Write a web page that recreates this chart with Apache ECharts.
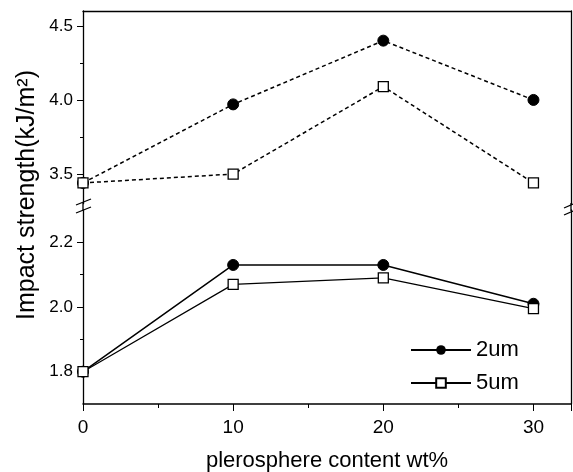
<!DOCTYPE html>
<html lang="en">
<head>
    <meta charset="UTF-8">
    <title>impact strength</title>
    <script src="https://cdn.jsdelivr.net/npm/echarts@6/dist/echarts.min.js"></script>
    <style>
        body { margin: 0; background: #fff; }
        #chart { width: 573px; height: 472px; }
    </style>
</head>
<body>
<div id="chart"></div>
<script>
    // plerosphere content, wt%
    const content = [0, 10, 20, 30];
    // upper (broken) panel, dashed
    const upper2um = [3.44, 3.97, 4.40, 4.00];
    const upper5um = [3.44, 3.50, 4.09, 3.44];
    // lower panel, solid
    const lower2um = [1.80, 2.13, 2.13, 2.01];
    const lower5um = [1.80, 2.07, 2.09, 1.995];

    // tick labels
    const upperTicks = [3.5, 4.0, 4.5];
    const upperMinor = [3.75, 4.25];
    const lowerTicks = [1.8, 2.0, 2.2];
    const lowerMinor = [1.9, 2.1];

    const font = 'Liberation Sans, Arial, sans-serif';

    function pairs(ys) {
        return content.map((x, i) => [x, ys[i]]);
    }

    let myChart = echarts.init(document.getElementById('chart'));

    const blackLine = {show: true, onZero: false, lineStyle: {color: '#000', width: 1.3}};

    function leftAxis(grid, min, max, ticks) {
        return {
            type: 'value', gridIndex: grid, min: min, max: max,
            axisLine: blackLine,
            axisTick: {show: true, length: 6, customValues: ticks, lineStyle: {color: '#000'}},
            axisLabel: {
                color: '#000', fontSize: 17, fontFamily: font, margin: 10,
                customValues: ticks, formatter: v => v.toFixed(1)
            },
            splitLine: {show: false}
        };
    }

    function minorAxis(grid, min, max, ticks) {
        return {
            type: 'value', gridIndex: grid, min: min, max: max, position: 'left',
            axisLine: {show: false, onZero: false},
            axisTick: {show: true, length: 3, customValues: ticks, lineStyle: {color: '#000'}},
            axisLabel: {show: false},
            splitLine: {show: false}
        };
    }

    function rightAxis(grid, min, max) {
        return {
            type: 'value', gridIndex: grid, min: min, max: max, position: 'right',
            axisLine: blackLine,
            axisLabel: {show: false}, axisTick: {show: false}, splitLine: {show: false}
        };
    }

    let option = {
        animation: false,
        grid: [
            {left: 83, right: 2, top: 11, height: 192.7, outerBoundsMode: 'none'},
            {left: 83, right: 2, top: 210, bottom: 68, outerBoundsMode: 'none'}
        ],
        xAxis: [
            {
                type: 'value', gridIndex: 0, min: 0, max: 32.5, position: 'top',
                axisLine: blackLine,
                axisLabel: {show: false}, axisTick: {show: false}, splitLine: {show: false}
            },
            {
                type: 'value', gridIndex: 1, min: 0, max: 32.5, interval: 10,
                axisLine: {show: true, onZero: false, lineStyle: {color: '#000', width: 1.5}},
                axisTick: {show: true, length: 7, lineStyle: {color: '#000'}},
                minorTick: {show: true, splitNumber: 2, length: 4, lineStyle: {color: '#000'}},
                axisLabel: {
                    color: '#000', fontSize: 19, fontFamily: font, margin: 14,
                    formatter: v => (v % 10 === 0 ? String(v) : '')
                },
                splitLine: {show: false},
                name: 'plerosphere content wt%',
                nameLocation: 'middle',
                nameGap: 46,
                nameTextStyle: {color: '#000', fontSize: 22, fontFamily: font}
            }
        ],
        yAxis: [
            leftAxis(0, 3.3, 4.6, upperTicks),
            leftAxis(1, 1.7, 2.3, lowerTicks),
            rightAxis(0, 3.3, 4.6),
            rightAxis(1, 1.7, 2.3),
            minorAxis(0, 3.3, 4.6, upperMinor),
            minorAxis(1, 1.7, 2.3, lowerMinor)
        ],
        legend: {
            orient: 'vertical',
            left: 405, top: 334,
            itemWidth: 60, itemHeight: 12, itemGap: 11,
            data: ['2um', '5um'],
            textStyle: {color: '#000', fontSize: 22, fontFamily: font}
        },
        graphic: [
            {
                type: 'text', x: 27, y: 195, rotation: Math.PI / 2,
                style: {
                    text: 'Impact strength(kJ/m²)', fill: '#000',
                    font: '25px ' + font, align: 'center', verticalAlign: 'middle'
                }
            },
            // axis line through the break
            {type: 'line', shape: {x1: 83, y1: 203, x2: 83, y2: 211}, style: {stroke: '#000', lineWidth: 1.3}},
            {type: 'line', shape: {x1: 571, y1: 203, x2: 571, y2: 211}, style: {stroke: '#000', lineWidth: 1.3}},
            // break marks
            {type: 'line', shape: {x1: 76, y1: 205, x2: 91, y2: 199}, style: {stroke: '#000', lineWidth: 1.3}},
            {type: 'line', shape: {x1: 76, y1: 213, x2: 91, y2: 207}, style: {stroke: '#000', lineWidth: 1.3}},
            {type: 'line', shape: {x1: 564, y1: 208, x2: 573, y2: 204}, style: {stroke: '#000', lineWidth: 1.3}},
            {type: 'line', shape: {x1: 564, y1: 215, x2: 573, y2: 211}, style: {stroke: '#000', lineWidth: 1.3}}
        ],
        series: [
            {
                name: '2um', type: 'line', xAxisIndex: 1, yAxisIndex: 1,
                data: pairs(lower2um),
                symbol: 'circle', symbolSize: 11,
                itemStyle: {color: '#000', borderColor: '#000'},
                lineStyle: {color: '#000', width: 1.5}
            },
            {
                name: '5um', type: 'line', xAxisIndex: 1, yAxisIndex: 1,
                data: pairs(lower5um),
                symbol: 'rect', symbolSize: 10,
                itemStyle: {color: '#fff', borderColor: '#000', borderWidth: 1.3},
                lineStyle: {color: '#000', width: 1.2}
            },
            {
                name: '2um', type: 'line', xAxisIndex: 0, yAxisIndex: 0,
                data: pairs(upper2um),
                symbol: 'circle', symbolSize: 11,
                itemStyle: {color: '#000', borderColor: '#000'},
                lineStyle: {color: '#000', width: 1.5, type: [4, 3]}
            },
            {
                name: '5um', type: 'line', xAxisIndex: 0, yAxisIndex: 0,
                data: pairs(upper5um),
                symbol: 'rect', symbolSize: 10,
                itemStyle: {color: '#fff', borderColor: '#000', borderWidth: 1.3},
                lineStyle: {color: '#000', width: 1.5, type: [4, 3]}
            }
        ]
    };

    myChart.setOption(option);
</script>
</body>
</html>
